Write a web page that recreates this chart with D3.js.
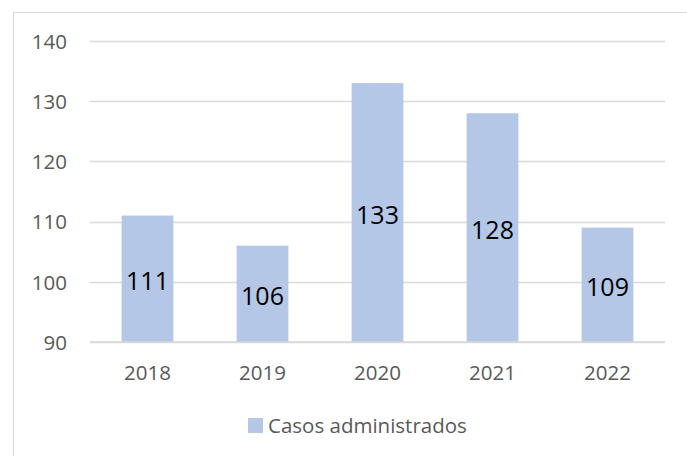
<!DOCTYPE html>
<html><head><meta charset="utf-8">
<script src="https://cdn.jsdelivr.net/npm/d3@7"></script>
<style>body{margin:0;background:#fff}svg{display:block}</style>
</head><body>
<script>
const categories = ["2018","2019","2020","2021","2022"];
const values = [111,106,133,128,109];
const yTicks = [90,100,110,120,130,140];
const seriesName = "Casos administrados";

const W = 687, H = 456;
const svg = d3.select("body").append("svg").attr("width", W).attr("height", H);
const font = "'Open Sans', 'Liberation Sans', sans-serif";

// outer border
svg.append("rect").attr("x", 13.5).attr("y", 12.5).attr("width", W).attr("height", H)
  .attr("fill", "none").attr("stroke", "#d9d9d9").attr("stroke-width", 1);

const x = d3.scaleBand().domain(categories).range([90, 665]).paddingInner(0.55).paddingOuter(0.275);
const y = d3.scaleLinear().domain([90, 140]).range([342, 41]);

// gridlines
svg.append("g").selectAll("line").data(yTicks).join("line")
  .attr("x1", 90).attr("x2", 665)
  .attr("y1", d => Math.round(y(d)) + 0.5).attr("y2", d => Math.round(y(d)) + 0.5)
  .attr("stroke", "#d9d9d9").attr("stroke-width", 1.5);

// y axis labels
const yAxis = d3.axisLeft(y).tickValues(yTicks).tickSize(0).tickPadding(0);
svg.append("g").attr("transform", "translate(67,0)").call(yAxis)
  .call(g => g.select(".domain").remove())
  .selectAll("text").attr("font-family", font).attr("font-size", 20.5).attr("fill", "#595959")
  .attr("dy", "0.36em");

// bars
svg.append("g").selectAll("rect").data(values).join("rect")
  .attr("x", (d, i) => x(categories[i])).attr("width", x.bandwidth())
  .attr("y", d => y(d)).attr("height", d => y(90) - y(d))
  .attr("fill", "#b4c7e7");

// x axis labels
const xAxis = d3.axisBottom(x).tickSize(0).tickPadding(0);
svg.append("g").attr("transform", "translate(0,380)").call(xAxis)
  .call(g => g.select(".domain").remove())
  .selectAll("text").attr("font-family", font).attr("font-size", 20.5).attr("fill", "#595959")
  .attr("y", 0).attr("dy", 0);

// baseline
svg.append("line").attr("x1", 90).attr("x2", 665).attr("y1", y(90)).attr("y2", y(90))
  .attr("stroke", "#d9d9d9").attr("stroke-width", 1.5);

// data labels
svg.append("g").selectAll("text").data(values).join("text")
  .attr("x", (d, i) => x(categories[i]) + x.bandwidth() / 2)
  .attr("y", d => (y(d) + y(90)) / 2)
  .attr("dy", "0.44em").attr("text-anchor", "middle")
  .attr("font-family", font).attr("font-size", 25).attr("fill", "#000")
  .text(d => d);

// legend
svg.append("rect").attr("x", 248).attr("y", 418).attr("width", 15).attr("height", 15).attr("fill", "#b4c7e7");
svg.append("text").attr("x", 268).attr("y", 433).attr("font-family", font).attr("font-size", 20.5)
  .attr("fill", "#595959").text(seriesName);
</script>
</body></html>
